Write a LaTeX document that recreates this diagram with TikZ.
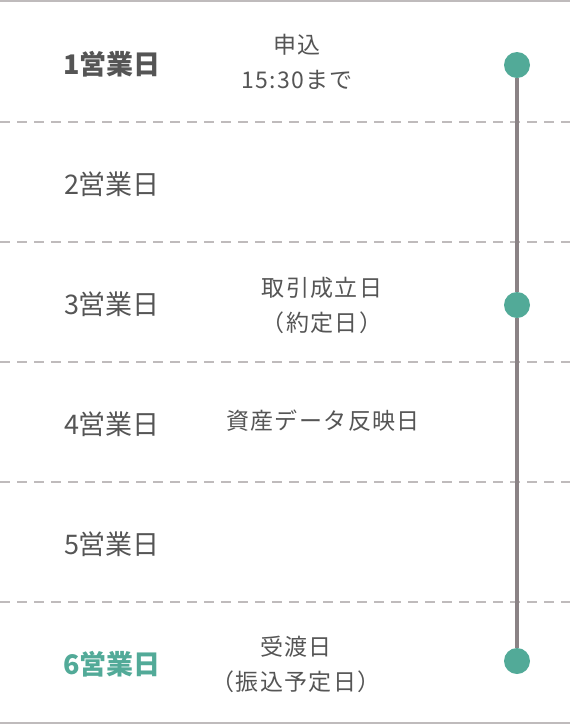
\documentclass[tikz,border=0pt]{standalone}
\usepackage{fontspec}
\setmainfont{Noto Sans CJK JP}
\usetikzlibrary{positioning}
\definecolor{tealdot}{HTML}{52AA98}
\definecolor{txtgray}{HTML}{555555}
\definecolor{rulegray}{HTML}{BFBBBC}
\definecolor{linegray}{HTML}{8A8285}
\begin{document}
\begin{tikzpicture}[
x=1pt,y=-1pt,
day/.style={text=txtgray,font=\fontsize{27}{30}\selectfont},
today/.style={day,font=\fontsize{27}{30}\selectfont\bfseries},
note/.style={text=txtgray,align=center,font=\fontsize{23}{35}\selectfont\addfontfeatures{LetterSpace=6}},
dot/.style={circle,fill=tealdot,minimum size=26pt,inner sep=0pt},
sep/.style={rulegray,line width=1.5pt,dash pattern=on 10pt off 7pt}]
\useasboundingbox (0,0) rectangle (570,724);
\draw[rulegray,line width=2pt] (0,1) -- (570,1);
\draw[rulegray,line width=2pt] (0,723) -- (570,723);
\foreach \y in {122,242,362,482,602}
  \draw[sep] (0,\y) -- (570,\y);
\node (day1) [today] at (112,64) {1営業日};
\node (day2) [day] at (112,184) {2営業日};
\node (day3) [day] at (112,304) {3営業日};
\node (day4) [day] at (112,424) {4営業日};
\node (day5) [day] at (112,544) {5営業日};
\node (day6) [today,text=tealdot] at (112,664) {6営業日};
\node (apply) [note] at (297,62) {申込\\15:30まで};
\node (trade) [note] at (322,305) {取引成立日\\（約定日）};
\node (asset) [note] at (323,421) {資産データ反映日};
\node (settle) [note] at (296,664) {受渡日\\（振込予定日）};
\node (dot1) [dot] at (517,65) {};
\node (dot3) [dot] at (517,305) {};
\node (dot6) [dot] at (517,661) {};
\draw[linegray,line width=4pt] (dot1) -- (dot3);
\draw[linegray,line width=4pt] (dot3) -- (dot6);
\end{tikzpicture}
\end{document}
